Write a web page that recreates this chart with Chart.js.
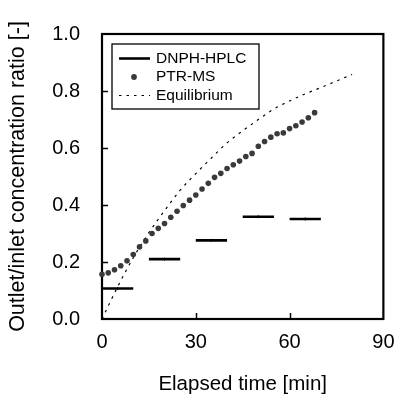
<!DOCTYPE html>
<html>
<head>
<meta charset="utf-8">
<script src="https://cdn.jsdelivr.net/npm/chart.js@4"></script>
<style>
    html, body { margin: 0; padding: 0; background: #fff; }
    canvas { display: block; }
</style>
</head>
<body>
<canvas id="chart" width="406" height="396"></canvas>
<script>
let hplcStart = [0, 15, 30, 45, 60]
let hplcEnd = [10, 25, 40, 55, 70]
let hplcRatio = [0.107, 0.210, 0.276, 0.359, 0.351]

let ptrTime = [0, 2, 4, 6, 8, 10, 12, 14, 16, 18, 20, 22, 24, 26, 28, 30, 32, 34,
    36, 38, 40, 42, 44, 46, 48, 50, 52, 54, 56, 58, 60, 62, 64, 66, 68]
let ptrRatio = [0.157, 0.162, 0.173, 0.187, 0.204, 0.226, 0.253, 0.274, 0.300, 0.318,
    0.335, 0.357, 0.378, 0.398, 0.417, 0.435, 0.456, 0.476, 0.497, 0.511, 0.528,
    0.541, 0.554, 0.570, 0.581, 0.606, 0.623, 0.638, 0.650, 0.653, 0.668, 0.678,
    0.691, 0.706, 0.724]

let eqTime = [0, 5, 10, 15, 20, 25, 30, 35, 40, 45, 50, 55, 60, 65, 70, 75, 80]
let eqRatio = [0, 0.113, 0.215, 0.303, 0.38, 0.452, 0.51, 0.565, 0.618, 0.66, 0.70,
    0.737, 0.765, 0.79, 0.812, 0.835, 0.858]

let xTicks = [0, 30, 60, 90]
let yTicks = [0, 0.2, 0.4, 0.6, 0.8, 1.0]

const FONT = '"Liberation Sans", Arial, Helvetica, sans-serif'

// horizontal bars for the sampling periods, broken by null gaps
let hplcData = []
hplcStart.forEach((s, i) => {
    hplcData.push({x: s, y: hplcRatio[i]})
    hplcData.push({x: hplcEnd[i], y: hplcRatio[i]})
    if (i < hplcStart.length - 1) {
        hplcData.push({x: (hplcEnd[i] + hplcStart[i + 1]) / 2, y: null})
    }
})
let hplcMid = hplcStart.map((s, i) => ({x: (s + hplcEnd[i]) / 2, y: hplcRatio[i]}))

// frame + inward ticks, drawn under the data
const frame = {
    id: 'frame',
    beforeDatasetsDraw(chart) {
        let {ctx, chartArea: a, scales} = chart
        ctx.save()
        ctx.strokeStyle = '#000'
        ctx.lineWidth = 1.5
        yTicks.forEach((v) => {
            if (v <= 0 || v >= 1) return
            let y = Math.round(scales.y.getPixelForValue(v)) + 0.5
            ctx.beginPath()
            ctx.moveTo(a.left, y)
            ctx.lineTo(a.left + 6, y)
            ctx.stroke()
        })
        xTicks.forEach((v) => {
            if (v <= 0 || v >= 90) return
            let x = Math.round(scales.x.getPixelForValue(v)) + 0.5
            ctx.beginPath()
            ctx.moveTo(x, a.bottom)
            ctx.lineTo(x, a.bottom - 6)
            ctx.stroke()
        })
        ctx.lineWidth = 2.2
        ctx.strokeRect(a.left, a.top, a.right - a.left, a.bottom - a.top)
        ctx.restore()
    },
}

// boxed legend in the upper-left of the plot
const boxLegend = {
    id: 'boxLegend',
    afterDraw(chart) {
        let {ctx, chartArea: a} = chart
        let x0 = a.left + 10
        let y0 = a.top + 10
        ctx.save()
        ctx.fillStyle = '#fff'
        ctx.fillRect(x0, y0, 147, 65)
        ctx.strokeStyle = '#000'
        ctx.lineWidth = 1.3
        ctx.strokeRect(x0, y0, 147, 65)

        let items = chart.data.datasets.filter((d) => d.inLegend)
        items.forEach((d, i) => {
            let cy = y0 + 14.5 + i * 18.5
            if (d.showLine === false) {
                ctx.fillStyle = d.backgroundColor
                ctx.beginPath()
                ctx.arc(x0 + 22, cy, 2.9, 0, Math.PI * 2)
                ctx.fill()
            } else {
                ctx.strokeStyle = d.borderColor
                ctx.lineWidth = d.borderWidth
                ctx.setLineDash(d.borderDash || [])
                ctx.beginPath()
                ctx.moveTo(x0 + 7, cy)
                ctx.lineTo(x0 + 38, cy)
                ctx.stroke()
                ctx.setLineDash([])
            }
            ctx.fillStyle = '#000'
            ctx.font = '15.5px ' + FONT
            ctx.textBaseline = 'middle'
            ctx.textAlign = 'left'
            ctx.fillText(d.label, x0 + 44, cy)
        })
        ctx.restore()
    },
}

new Chart(document.getElementById('chart'), {
    type: 'scatter',
    data: {
        datasets: [
            {
                label: 'DNPH-HPLC',
                inLegend: true,
                data: hplcData,
                showLine: true,
                spanGaps: false,
                borderColor: '#000',
                borderWidth: 2.6,
                pointRadius: 0,
                order: 2,
            },
            {
                label: 'hplc-mid',
                data: hplcMid,
                pointStyle: 'line',
                rotation: 90,
                pointRadius: 1.5,
                borderColor: '#000',
                borderWidth: 1,
                order: 2,
            },
            {
                label: 'PTR-MS',
                inLegend: true,
                data: ptrTime.map((t, i) => ({x: t, y: ptrRatio[i]})),
                showLine: false,
                pointRadius: 2.8,
                pointBorderWidth: 0,
                backgroundColor: '#3a3a3a',
                borderColor: '#3a3a3a',
                clip: false,
                order: 1,
            },
            {
                label: 'Equilibrium',
                inLegend: true,
                data: eqTime.map((t, i) => ({x: t, y: eqRatio[i]})),
                showLine: true,
                cubicInterpolationMode: 'monotone',
                borderColor: '#000',
                borderWidth: 1.2,
                borderDash: [2.5, 5],
                pointRadius: 0,
                clip: false,
                order: 3,
            },
        ],
    },
    options: {
        responsive: false,
        animation: false,
        events: [],
        layout: {
            padding: {left: 0, right: 13, top: 21, bottom: 0},
        },
        plugins: {
            legend: {display: false},
            tooltip: {enabled: false},
        },
        scales: {
            x: {
                type: 'linear',
                min: 0,
                max: 90,
                grid: {display: false, drawTicks: false},
                border: {display: false},
                afterBuildTicks(scale) {
                    scale.ticks = xTicks.map((v) => ({value: v}))
                },
                afterFit(scale) {
                    scale.height = 77
                },
                ticks: {
                    padding: 11.5,
                    color: '#000',
                    font: {family: FONT, size: 20},
                    callback: (v) => String(v),
                },
                title: {
                    display: true,
                    text: 'Elapsed time [min]',
                    color: '#000',
                    padding: 0,
                    font: {family: FONT, size: 20.5, lineHeight: 1.1},
                },
            },
            y: {
                type: 'linear',
                min: 0,
                max: 1,
                grid: {display: false, drawTicks: false},
                border: {display: false},
                afterBuildTicks(scale) {
                    scale.ticks = yTicks.map((v) => ({value: v}))
                },
                afterFit(scale) {
                    scale.width = 102
                },
                ticks: {
                    padding: 22,
                    color: '#000',
                    font: {family: FONT, size: 20},
                    callback: (v) => Number(v).toFixed(1),
                },
                title: {
                    display: true,
                    text: 'Outlet/inlet concentration ratio [-]',
                    color: '#000',
                    padding: {top: 6, bottom: 0},
                    font: {family: FONT, size: 21.5, lineHeight: 1.1},
                },
            },
        },
    },
    plugins: [frame, boxLegend],
})
</script>
</body>
</html>
